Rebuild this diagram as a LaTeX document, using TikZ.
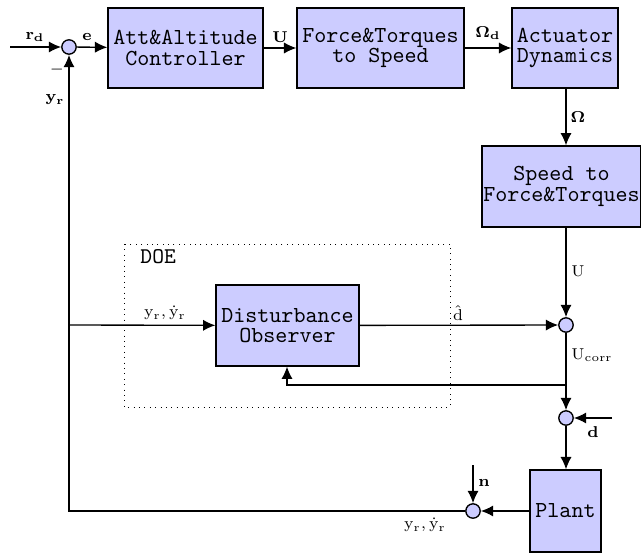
\documentclass[tikz,border=0pt]{standalone}
\usetikzlibrary{arrows.meta}
\begin{document}
\begin{tikzpicture}[x=0.445pt,y=-0.445pt,
  blk/.style={draw,fill=blue!20,semithick,inner sep=0pt,align=center,
    font=\ttfamily\fontsize{10.2}{9}\selectfont,minimum height=35.6pt},
  sumc/.style={draw,fill=blue!20,circle,semithick,inner sep=0pt,minimum size=6.4pt},
  lab/.style={font=\scriptsize,inner sep=1pt},
  con/.style={semithick,-{Latex[length=5.5pt,width=5pt]}},
  ln/.style={semithick}]
\useasboundingbox (0,0) rectangle (641,554);
% blocks
\node[blk,minimum width=69pt] (ctrl) at (185.5,48) {Att\&Altitude\\Controller};
\node[blk,minimum width=74.3pt] (fts) at (380.5,48) {Force\&Torques\\to Speed};
\node[blk,minimum width=47.2pt] (act) at (565,48) {Actuator\\Dynamics};
\node[blk,minimum width=70.8pt,minimum height=36pt] (stf) at (561.5,186.5) {Speed to\\Force\&Torques};
\node[blk,minimum width=63.6pt,minimum height=36pt] (dob) at (287.5,325.5) {Disturbance\\Observer};
\node[blk,minimum width=31.6pt,minimum height=36.5pt] (plant) at (565.5,511) {Plant};
% sums
\node[sumc] (s1) at (69,47) {};
\node[sumc] (s2) at (566,325) {};
\node[sumc] (s3) at (566,418) {};
\node[sumc] (s4) at (473,511) {};
% DOE box
\draw[dotted] (124,244) rectangle (450,407);
\node[font=\ttfamily,anchor=west,inner sep=0pt] (doe) at (140,257) {DOE};
% coordinates
\coordinate (in) at (10,47);
\coordinate (din) at (612,418);
\coordinate (nin) at (473,465);
\coordinate (fbc) at (69,511);
\coordinate (fbm) at (69,325);
\coordinate (br) at (566,385);
\coordinate (brl) at (287,385);
% connectors
\draw[con] (in) -- (s1);
\draw[con] (s1) -- (ctrl);
\draw[con] (ctrl) -- (fts);
\draw[con] (fts) -- (act);
\draw[con] (act.south -| s2) -- (stf.north -| s2);
\draw[con] (stf.south -| s2) -- (s2);
\draw[con] (fbm) -- (dob);
\draw[con] (dob) -- (s2);
\draw[con] (s2) -- (s3);
\draw[con] (br) -- (brl) -- (dob.south -| brl);
\draw[con] (din) -- (s3);
\draw[con] (s3) -- (plant.north -| s3);
\draw[con] (plant) -- (s4);
\draw[con] (nin) -- (s4);
\draw[con] (s4) -- (fbc) -- (s1);
% labels
\node[lab] (lrd) at (35,37) {$\mathbf{r_d}$};
\node[lab] (le) at (87,37) {$\mathbf{e}$};
\node[lab] (lm) at (57,70) {$\mathbf{-}$};
\node[lab] (lyr) at (55,100) {$\mathbf{y_r}$};
\node[lab] (lu1) at (280,37) {$\mathbf{U}$};
\node[lab] (lod) at (488,33) {$\mathbf{\Omega_d}$};
\node[lab] (lom) at (578,117) {$\mathbf{\Omega}$};
\node[lab] (lu2) at (578,271) {$\mathrm{U}$};
\node[lab] (lyy) at (165,313) {$\mathrm{y_r,\dot y_r}$};
\node[lab] (ldh) at (458,313) {$\mathrm{\hat d}$};
\node[lab] (luc) at (592,355) {$\mathrm{U_{corr}}$};
\node[lab] (ld) at (593,432) {$\mathbf{d}$};
\node[lab] (ln) at (484,483) {$\mathbf{n}$};
\node[lab] (lyy2) at (425,525) {$\mathrm{y_r,\dot y_r}$};
\end{tikzpicture}
\end{document}
